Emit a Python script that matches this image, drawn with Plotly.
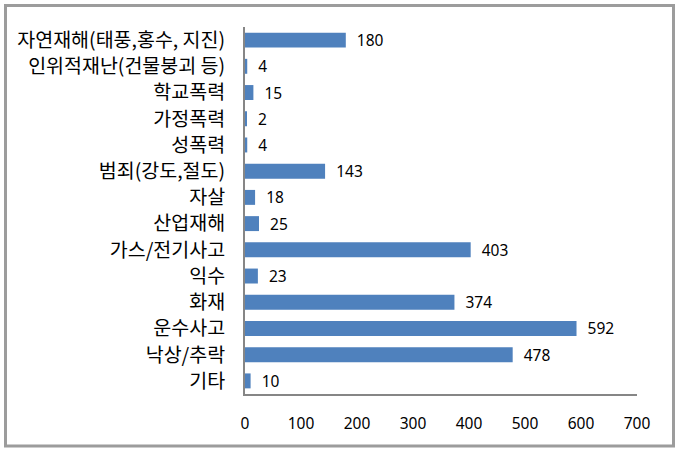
import plotly.graph_objects as go

categories = ["자연재해(태풍,홍수, 지진)", "인위적재난(건물붕괴 등)", "학교폭력", "가정폭력", "성폭력",
              "범죄(강도,절도)", "자살", "산업재해", "가스/전기사고", "익수", "화재", "운수사고", "낙상/추락", "기타"]
values = [180, 4, 15, 2, 4, 143, 18, 25, 403, 23, 374, 592, 478, 10]
x_ticks = [0, 100, 200, 300, 400, 500, 600, 700]

fig = go.Figure(go.Bar(
    y=categories, x=values, orientation="h",
    marker=dict(color="#4F81BD", line=dict(width=0)),
    text=["  " + str(v) for v in values], textposition="outside",
    constraintext="none",
    textfont=dict(family="Noto Sans", size=15.5, color="#000000"),
    cliponaxis=False,
))

W, H = 680, 453
L, R, T, B = 245, 43, 27, 59
pw, ph = W - L - R, H - T - B

def px(x):
    return (x - L) / pw

def py(y):
    return (H - B - y) / ph

fig.update_layout(
    width=W, height=H,
    margin=dict(l=L, r=R, t=T, b=B),
    paper_bgcolor="white", plot_bgcolor="white",
    bargap=0.43, showlegend=False,
    xaxis=dict(range=[0, 700], tickvals=x_ticks, showgrid=False, zeroline=False,
               showline=True, linecolor="#868686", linewidth=2,
               ticks="", ticklabelstandoff=14,
               tickfont=dict(family="Noto Sans", size=15.5, color="#000000")),
    yaxis=dict(autorange="reversed", showgrid=False, zeroline=False,
               showline=True, linecolor="#868686", linewidth=2,
               ticks="", ticklabelstandoff=14,
               tickfont=dict(family="Noto Sans CJK KR", size=19.5, color="#000000")),
    shapes=[dict(type="rect", xref="paper", yref="paper",
                 x0=px(5.5), x1=px(673.5), y0=py(446), y1=py(5.5),
                 line=dict(color="#9C9C9C", width=3), fillcolor="rgba(0,0,0,0)", layer="below")],
)

fig.write_html("out.html")
